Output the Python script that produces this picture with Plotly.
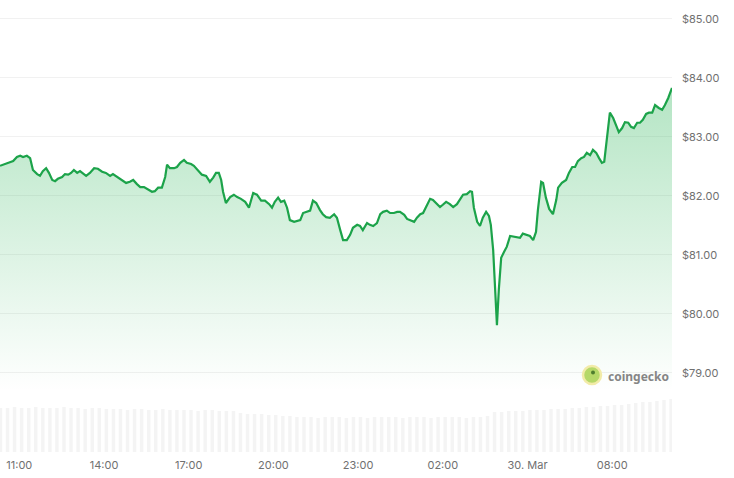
import plotly.graph_objects as go
import pandas as pd

# ---- data ----
times_mar29 = ["10:19","10:30","10:40","10:47","10:55","11:02","11:08","11:16","11:23","11:29",
    "11:38","11:44","11:50","11:57","12:03","12:10","12:16","12:22","12:31","12:37",
    "12:44","12:50","12:56","13:03","13:09","13:15","13:22","13:30","13:39","13:47",
    "13:56","14:04","14:13","14:19","14:28","14:38","14:47","14:55","15:02","15:10",
    "15:17","15:25","15:34","15:42","15:48","15:55","16:03","16:10","16:14","16:20",
    "16:29","16:35","16:42","16:50","16:56","17:05","17:11","17:20","17:28","17:37",
    "17:45","17:52","17:58","18:04","18:09","18:13","18:19","18:28","18:36","18:43",
    "18:51","19:00","19:08","19:17","19:25","19:34","19:42","19:51","19:57","20:03",
    "20:10","20:16","20:23","20:29","20:35","20:44","20:50","20:57","21:03","21:09",
    "21:18","21:24","21:31","21:39","21:45","21:52","22:00","22:09","22:15","22:22",
    "22:28","22:36","22:43","22:49","22:58","23:04","23:10","23:19","23:25","23:32",
    "23:40","23:47","23:53"]
prices_mar29 = [82.51,82.54,82.58,82.59,82.66,82.68,82.66,82.68,82.64,82.44,
    82.37,82.34,82.42,82.47,82.39,82.27,82.25,82.29,82.32,82.37,
    82.36,82.39,82.44,82.39,82.42,82.39,82.34,82.39,82.47,82.46,
    82.41,82.39,82.34,82.37,82.32,82.27,82.22,82.24,82.27,82.20,
    82.15,82.15,82.10,82.07,82.08,82.14,82.14,82.32,82.53,82.47,
    82.47,82.49,82.56,82.61,82.56,82.54,82.51,82.42,82.36,82.34,
    82.24,82.31,82.39,82.39,82.27,82.07,81.88,81.98,82.02,81.98,
    81.95,81.90,81.80,82.05,82.02,81.92,81.92,81.86,81.80,81.90,
    81.97,81.90,81.92,81.80,81.59,81.56,81.58,81.59,81.71,81.73,
    81.75,81.92,81.88,81.76,81.69,81.64,81.63,81.69,81.63,81.42,
    81.25,81.25,81.34,81.46,81.51,81.49,81.42,81.54,81.51,81.49,
    81.54,81.69,81.73]

times_mar30 = ["00:01","00:08","00:16","00:23","00:29","00:38","00:44","00:50","00:59","01:05",
    "01:12","01:18","01:26","01:33","01:39","01:48","01:54","02:00","02:07","02:15",
    "02:22","02:30","02:37","02:43","02:51","02:58","03:02","03:06","03:13","03:19",
    "03:25","03:32","03:38","03:42","03:47","03:51","03:55","03:59","04:04","04:10",
    "04:16","04:23","04:29","04:38","04:44","04:50","04:59","05:05","05:12","05:18",
    "05:22","05:29","05:33","05:39","05:46","05:54","06:01","06:05","06:13","06:22",
    "06:28","06:35","06:41","06:47","06:54","07:00","07:06","07:13","07:19","07:26",
    "07:32","07:38","07:43","07:49","07:55","08:02","08:08","08:14","08:21","08:27",
    "08:34","08:40","08:46","08:53","08:59","09:05","09:12","09:18","09:25","09:31",
    "09:39","09:46","09:52","09:59","10:07"]
prices_mar30 = [81.75,81.71,81.71,81.73,81.73,81.68,81.61,81.59,81.56,81.63,
    81.69,81.71,81.85,81.95,81.93,81.86,81.81,81.85,81.90,81.86,
    81.81,81.86,81.95,82.02,82.03,82.08,82.07,81.80,81.56,81.49,
    81.63,81.73,81.66,81.51,81.08,80.53,79.81,80.41,80.95,81.05,
    81.14,81.32,81.31,81.29,81.29,81.36,81.34,81.32,81.25,81.39,
    81.76,82.24,82.22,81.97,81.78,81.69,81.93,82.14,82.22,82.27,
    82.39,82.49,82.49,82.59,82.64,82.66,82.73,82.69,82.78,82.73,
    82.64,82.56,82.58,83.00,83.41,83.32,83.20,83.08,83.15,83.25,
    83.24,83.17,83.15,83.24,83.24,83.29,83.39,83.41,83.41,83.54,
    83.49,83.46,83.54,83.66,83.83]

# 15-minute volume bins (relative, $M), starting Mar 29 10:20
volume_start = "2025-03-29 10:20"
volume_values = [440,440,450,440,440,450,440,440,440,450,440,440,430,440,440,
    430,430,430,420,430,430,420,420,430,420,420,420,420,410,420,420,410,410,410,
    390,380,380,380,370,370,360,360,
    350,350,350,340,350,350,350,340,350,350,340,350,350,350,350,340,350,350,350,340,350,350,350,350,340,350,350,360,
    400,400,410,410,410,420,420,420,430,430,430,440,440,450,450,460,460,470,470,480,490,500,500,510,520,530]

tick_times = ["2025-03-29 11:00","2025-03-29 14:00","2025-03-29 17:00","2025-03-29 20:00",
              "2025-03-29 23:00","2025-03-30 02:00","2025-03-30 05:00","2025-03-30 08:00"]
tick_labels = ["11:00","14:00","17:00","20:00","23:00","02:00","30. Mar","08:00"]
price_ticks = [79, 80, 81, 82, 83, 84, 85]
price_labels = ["$%.2f" % v for v in price_ticks]

# ---- build ----
times = [pd.Timestamp("2025-03-29 " + t) for t in times_mar29] + \
        [pd.Timestamp("2025-03-30 " + t) for t in times_mar30]
prices = prices_mar29 + prices_mar30
vol_times = pd.date_range(volume_start, periods=len(volume_values), freq="15min")

GREEN = "rgb(28,163,74)"
fig = go.Figure()
fig.add_trace(go.Bar(
    x=vol_times, y=volume_values, yaxis="y2",
    marker=dict(color="rgba(0,0,0,0.045)", line=dict(width=0)),
    hoverinfo="skip", showlegend=False))
fig.add_trace(go.Scatter(
    x=times, y=prices, mode="lines",
    line=dict(color=GREEN, width=2.2),
    fill="tozeroy",
    fillgradient=dict(type="vertical", start=78.7, stop=84.0,
                      colorscale=[[0, "rgba(40,180,85,0)"], [1, "rgba(40,180,85,0.36)"]]),
    hoverinfo="skip", showlegend=False, yaxis="y"))

FONT = dict(family="Inter, Noto Sans, sans-serif", size=11, color="#707070")
fig.update_layout(
    width=734, height=478,
    margin=dict(l=0, r=62, t=0, b=26),
    paper_bgcolor="white", plot_bgcolor="white",
    bargap=0.5,
    font=FONT,
    xaxis=dict(type="date", range=[times[0], times[-1]],
               tickvals=tick_times, ticktext=tick_labels,
               showgrid=False, zeroline=False, showline=False, ticks="",
               ticklabelstandoff=5, tickfont=FONT),
    yaxis=dict(side="right", range=[77.66, 85.32], tickvals=price_ticks, ticktext=price_labels,
               showgrid=True, gridcolor="#f1f1f1", gridwidth=1, zeroline=False,
               showline=False, ticks="", ticklabelstandoff=9, tickfont=FONT),
    yaxis2=dict(domain=[0, 0.13], anchor="x", range=[0, 588], visible=False,
                showgrid=False, zeroline=False),
)

# coingecko watermark
W, H = 672.0, 452.0
def px(xp): return xp / W
def py(yp): return 1 - yp / H
fig.add_shape(type="circle", xref="paper", yref="paper",
              x0=px(583), x1=px(601), y0=py(384), y1=py(366),
              fillcolor="#b5d868", line=dict(color="#f2eba8", width=2.5), layer="above")
fig.add_shape(type="circle", xref="paper", yref="paper",
              x0=px(591), x1=px(595), y0=py(374.5), y1=py(370.5),
              fillcolor="#4f7d2e", line=dict(width=0), layer="above")
fig.add_annotation(xref="paper", yref="paper", x=px(606), y=py(376), xanchor="left", yanchor="middle",
                   text="<b>coingecko</b>", showarrow=False,
                   font=dict(family="Noto Sans, sans-serif", size=12, color="#858585"))

fig.write_html("out.html", config={"displayModeBar": False},
               post_script="document.body.style.margin='0';")
